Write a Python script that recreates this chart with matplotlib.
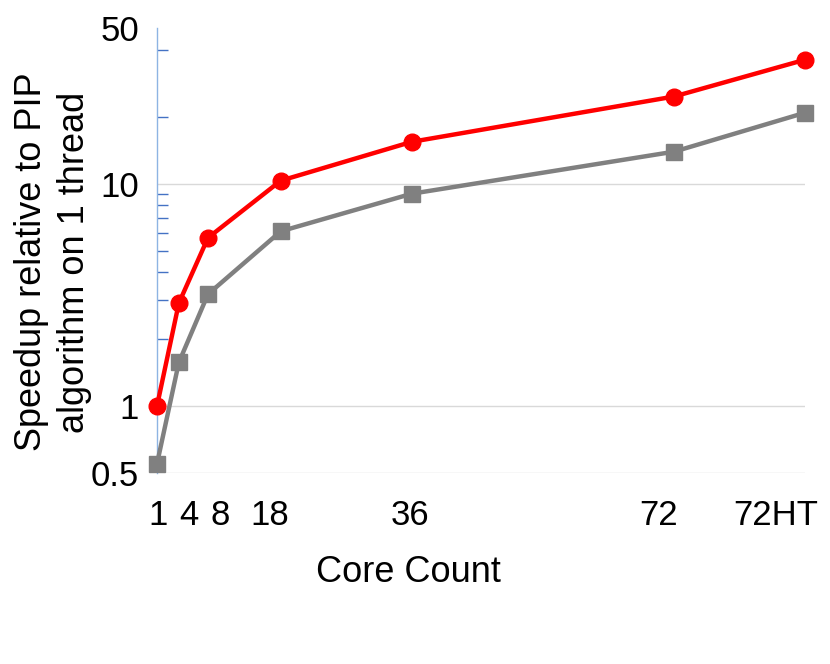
import matplotlib
matplotlib.use("Agg")
import matplotlib.pyplot as plt
from matplotlib.ticker import FixedLocator, NullFormatter
from matplotlib.transforms import ScaledTranslation

plt.rcParams['font.family'] = ['Liberation Sans', 'DejaVu Sans']

core_pos = [1, 4, 8, 18, 36, 72, 90]
core_labels = ["1", "4", "8", "18", "36", "72", "72HT"]
red_speedup = [1.0, 2.9, 5.7, 10.3, 15.4, 24.6, 36.0]
gray_speedup = [0.55, 1.57, 3.18, 6.1, 9.0, 13.9, 20.8]
y_major = [0.5, 1, 10, 50]
y_major_labels = ["0.5", "1", "10", "50"]
y_minor = [2, 3, 4, 5, 6, 7, 8, 9, 20, 40]
# horizontal nudges (pixels) of the category labels, as laid out in the source chart
label_nudge_px = [1, 10, 12, -11, -2, -15, -29]

fig = plt.figure(figsize=(8.3, 6.64), dpi=100)
ax = fig.add_axes([157/830, 1-473/664, (805-157)/830, (473-28)/664])

ax.set_yscale('log')
ax.set_ylim(0.5, 50)
ax.set_xlim(1, 90)

for y in [0.5, 1, 10]:
    ax.axhline(y, color='#D9D9D9', lw=1, zorder=0)

ax.plot(core_pos, gray_speedup, color='#808080', lw=3.2, marker='s', ms=12, zorder=3, clip_on=False)
ax.plot(core_pos, red_speedup, color='#FF0000', lw=3.2, marker='o', ms=12, zorder=4, clip_on=False)

for s in ['top', 'right', 'bottom']:
    ax.spines[s].set_visible(False)
ax.spines['left'].set_color('#8EB4E3')
ax.spines['left'].set_linewidth(1)

ax.yaxis.set_major_locator(FixedLocator(y_major))
ax.set_yticklabels(y_major_labels)
ax.yaxis.set_minor_locator(FixedLocator(y_minor))
ax.yaxis.set_minor_formatter(NullFormatter())
ax.tick_params(axis='y', which='both', direction='in', color='#4472C4', length=8, width=1,
               labelsize=25, pad=13)
ax.tick_params(axis='y', which='major', length=0)
ax.set_xticks(core_pos)
ax.set_xticklabels(core_labels)
ax.tick_params(axis='x', length=0, labelsize=25, pad=19)
for lab, dx in zip(ax.get_xticklabels(), label_nudge_px):
    lab.set_transform(lab.get_transform() + ScaledTranslation(dx / 100, 0, fig.dpi_scale_trans))

fig.text(408/830, 1-573/664, "Core Count", ha='center', va='center', fontsize=26)
fig.text(53/830, 1-262/664, "Speedup relative to PIP\nalgorithm on 1 thread", ha='center', va='center',
         rotation=90, fontsize=26, linespacing=1.3, multialignment='center')

fig.savefig("out.png", dpi=100)
